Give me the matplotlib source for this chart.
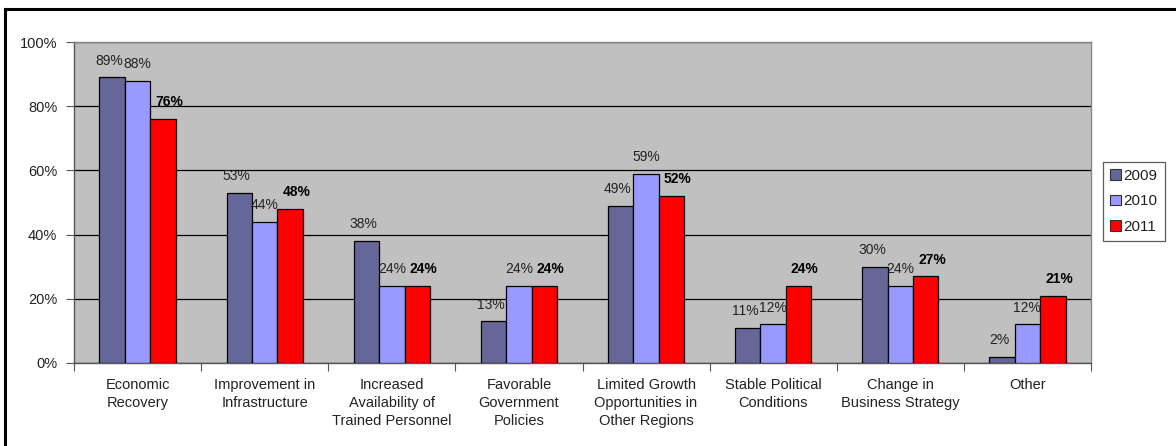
import numpy as np
import matplotlib
matplotlib.use("Agg")
import matplotlib.pyplot as plt
from matplotlib.lines import Line2D
from matplotlib.patches import Patch

plt.rcParams['font.family'] = ['Liberation Sans', 'DejaVu Sans']

# Survey results: share of respondents citing each driver, per year
categories = [
    "Economic\nRecovery",
    "Improvement in\nInfrastructure",
    "Increased\nAvailability of\nTrained Personnel",
    "Favorable\nGovernment\nPolicies",
    "Limited Growth\nOpportunities in\nOther Regions",
    "Stable Political\nConditions",
    "Change in\nBusiness Strategy",
    "Other",
]
years = ["2009", "2010", "2011"]
vals_2009 = [89, 53, 38, 13, 49, 11, 30, 2]
vals_2010 = [88, 44, 24, 24, 59, 12, 24, 12]
vals_2011 = [76, 48, 24, 24, 52, 24, 27, 21]

colors = ["#666699", "#9999ff", "#ff0000"]

W, H = 1176, 446
fig = plt.figure(figsize=(W / 100, H / 100), dpi=100)
ax = fig.add_axes([74 / W, 1 - 363 / H, (1091 - 74) / W, (363 - 42) / H])
ax.set_facecolor("#c0c0c0")

x = np.arange(len(categories))
bw = 0.2
series = [vals_2009, vals_2010, vals_2011]
label_dx = [-2, 0, 4.5]   # small sideways nudge of the value labels, in points
for i, (vals, col) in enumerate(zip(series, colors)):
    pos = x + (i - 1) * bw
    ax.bar(pos, vals, width=bw, color=col, edgecolor="black", linewidth=0.9, zorder=3)
    for px, v in zip(pos, vals):
        ax.annotate(f"{v}%", (px, v), xytext=(label_dx[i], 7), textcoords="offset points",
                    ha="center", va="bottom", fontsize=10,
                    fontweight="bold" if i == 2 else "normal",
                    color="black" if i == 2 else "#222222", zorder=4)

ax.set_xlim(-0.5, len(categories) - 0.5)
ax.set_ylim(0, 100)
ax.set_yticks([0, 20, 40, 60, 80, 100])
ax.set_yticklabels([f"{t}%" for t in range(0, 101, 20)], fontsize=10.5, color="#222222")
ax.yaxis.grid(True, color="black", linewidth=0.9, zorder=1)
ax.set_axisbelow(True)

# category labels sit between boundary ticks
ax.set_xticks(np.arange(len(categories) + 1) - 0.5)
ax.set_xticklabels([])
ax.set_xticks(x, minor=True)
ax.set_xticklabels(categories, minor=True, fontsize=10.5, color="#222222", linespacing=1.35)
ax.tick_params(axis="x", which="minor", length=0, pad=11)
ax.tick_params(axis="x", which="major", length=6, color="#555555")
ax.tick_params(axis="y", length=6, color="#555555", pad=6)

for side in ["top", "right"]:
    ax.spines[side].set_color("#888888")
    ax.spines[side].set_linewidth(1.0)
for side in ["left", "bottom"]:
    ax.spines[side].set_color("#555555")
    ax.spines[side].set_linewidth(1.0)

handles = [Patch(facecolor=c, edgecolor="#333333", linewidth=0.8) for c in colors]
leg = fig.legend(handles, years, loc="upper left",
                 bbox_to_anchor=(1103 / W, 1 - 162 / H), frameon=True,
                 fontsize=11, handlelength=0.7, handleheight=0.7,
                 handletextpad=0.2, labelspacing=0.75, borderpad=0.45,
                 borderaxespad=0, fancybox=False)
leg.get_frame().set_edgecolor("#333333")
leg.get_frame().set_linewidth(0.9)
for t in leg.get_texts():
    t.set_color("#222222")

# outer frame around the figure
fig.add_artist(Line2D([5 / W, 5 / W], [0, 1 - 9 / H], color="black", linewidth=2.2))
fig.add_artist(Line2D([5 / W, 1], [1 - 9 / H, 1 - 9 / H], color="black", linewidth=2.2))

fig.savefig("out.png", dpi=100)
